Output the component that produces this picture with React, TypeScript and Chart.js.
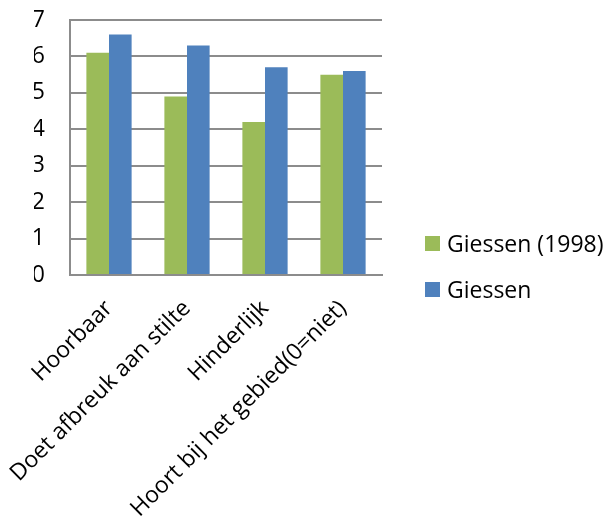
import React, { useEffect, useRef } from "react";
import { Chart, registerables } from "chart.js";

Chart.register(...registerables);

const categories = [
  "Hoorbaar",
  "Doet afbreuk aan stilte",
  "Hinderlijk",
  "Hoort bij het gebied(0=niet)",
];
const seriesNames = ["Giessen (1998)", "Giessen"];
const giessen1998 = [6.1, 4.9, 4.2, 5.5];
const giessen = [6.6, 6.3, 5.7, 5.6];
const colors = ["#9BBB59", "#4F81BD"];
const yTicks = [0, 1, 2, 3, 4, 5, 6, 7];

const FONT = "'Open Sans', sans-serif";
const SIZE = 23;

export default function App() {
  const ref = useRef<HTMLCanvasElement | null>(null);

  useEffect(() => {
    if (!ref.current) return;
    const chart = new Chart(ref.current, {
      type: "bar",
      data: {
        labels: categories,
        datasets: [
          { label: seriesNames[0], data: giessen1998, backgroundColor: colors[0] },
          { label: seriesNames[1], data: giessen, backgroundColor: colors[1] },
        ],
      },
      options: {
        animation: false,
        responsive: false,
        maintainAspectRatio: false,
        layout: { padding: { left: 34, right: 232, top: 20, bottom: 0 } },
        datasets: { bar: { categoryPercentage: 0.58, barPercentage: 1 } },
        plugins: { legend: { display: false }, tooltip: { enabled: false } },
        scales: {
          x: {
            grid: { display: false, drawTicks: false },
            border: { display: true, color: "#8c8c8c", width: 2 },
            ticks: {
              color: "#000",
              font: { family: FONT, size: SIZE },
              minRotation: 45,
              maxRotation: 45,
              padding: 20,
              autoSkip: false,
            },
            afterFit: (scale: any) => {
              scale.height = 254;
              scale.paddingLeft = 0;
              scale.paddingRight = 0;
            },
          },
          y: {
            min: yTicks[0],
            max: yTicks[yTicks.length - 1],
            afterBuildTicks: (scale: any) => {
              scale.ticks = yTicks.map((v) => ({ value: v }));
            },
            grid: { color: "#8c8c8c", lineWidth: 2, drawTicks: false },
            border: { display: true, color: "#8c8c8c", width: 2 },
            ticks: {
              color: "#000",
              font: { family: FONT, size: SIZE },
              padding: 25,
            },
            afterFit: (scale: any) => {
              scale.width = 36;
              scale.paddingTop = 0;
              scale.paddingBottom = 0;
            },
          },
        },
      },
    });
    return () => chart.destroy();
  }, []);

  return (
    <div style={{ position: "absolute", left: 0, top: 0, width: 614, height: 529 }}>
      <canvas ref={ref} width={614} height={529} style={{ display: "block" }} />
      <div
        style={{
          position: "absolute",
          left: 425,
          top: 228,
          fontFamily: FONT,
          fontSize: SIZE,
          color: "#000",
          display: "flex",
          flexDirection: "column",
          gap: 16,
        }}
      >
        {seriesNames.map((n, i) => (
          <div key={n} style={{ display: "flex", alignItems: "center", height: 30 }}>
            <span
              style={{
                display: "inline-block",
                width: 15,
                height: 15,
                background: colors[i],
                marginRight: 7,
              }}
            />
            <span>{n}</span>
          </div>
        ))}
      </div>
    </div>
  );
}
